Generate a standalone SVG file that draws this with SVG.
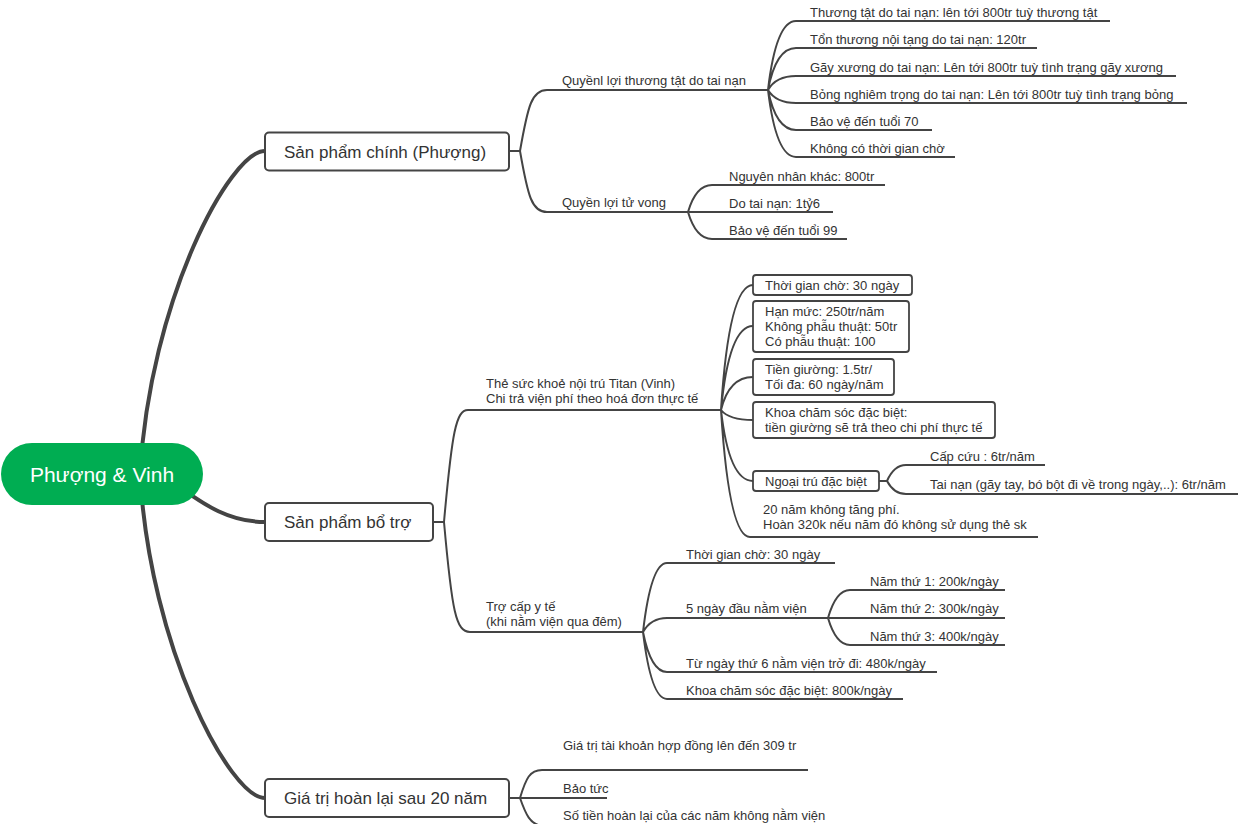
<svg xmlns="http://www.w3.org/2000/svg" width="1240" height="824" viewBox="0 0 1240 824">
<style>
.c0{fill:none;stroke:#444;stroke-width:4;stroke-linecap:round}
.c1{fill:none;stroke:#444;stroke-width:2}
.t{font-family:"Liberation Sans",Arial,sans-serif;font-size:13px;fill:#333}
.m{font-family:"Liberation Sans",Arial,sans-serif;font-size:17px;fill:#333}
.b{fill:#fff;stroke:#444;stroke-width:2}
.lb{fill:#fff;stroke:#444;stroke-width:1.8}
</style>
<rect width="1240" height="824" fill="#fff"/>
<g id="connectors">
<path class="c0" d="M140,474 C150,300 230,151 265,151"/>
<path class="c0" d="M150,470 C180,480 210,522 265,522"/>
<path class="c0" d="M140,474 C150,648 230,798 265,798"/>
<path class="c1" d="M509,151 H520 M520,151 C528,105 532,90 547,90 H768 M520,151 C528,197 532,212 547,212 H688"/>
<path class="c1" d="M768,90 Q776,21 796,21 H1110 M768,90 Q776,48 796,48 H1037 M768,90 Q776,76 796,76 H1176 M768,90 Q776,103 796,103 H1187 M768,90 Q776,130 796,130 H932 M768,90 Q776,157 796,157 H955"/>
<path class="c1" d="M688,212 Q696,185 712,185 H885 M688,212 H833 M688,212 Q696,239 712,239 H847"/>
<path class="c1" d="M433,522 H444 M444,522 C452,432 456,410 468,410 H721 M444,522 C452,612 456,632 470,632 H643"/>
<path class="c1" d="M721,410 Q729,285 753,285 M721,410 Q729,326 753,326 M721,410 Q729,377 753,377 M721,410 Q729,420 753,420 M721,410 Q729,481 753,481 M721,410 Q729,537 750,537 H1038"/>
<path class="c1" d="M879,481 H887 M887,481 Q894,465 906,465 H1045 M887,481 Q894,494 906,494 H1238"/>
<path class="c1" d="M643,632 Q651,563 667,563 H835 M643,632 Q651,618 667,618 H828 M643,632 Q651,672 667,672 H937 M643,632 Q651,699 667,699 H903"/>
<path class="c1" d="M828,618 Q836,590 850,590 H1005 M828,618 H1005 M828,618 Q836,645 850,645 H1005"/>
<path class="c1" d="M509,798 H520 M520,798 C526,778 530,770 542,770 H808 M520,798 H607 M520,798 C526,815 530,824 542,826"/>
</g>
<g id="root">
<rect x="1" y="443" width="202" height="62" rx="31" fill="#00ad52"/>
<text x="102" y="481.5" text-anchor="middle" style="font-family:'Liberation Sans',Arial,sans-serif;font-size:21px;fill:#fff">Phượng &amp; Vinh</text>
</g>
<g id="n-sp-chinh">
<rect class="b" x="265" y="132.5" width="244" height="38" rx="4"/>
<text class="m" x="284" y="158">Sản phẩm chính (Phượng)</text>
</g>
<g id="n-quyen-loi-thuong-tat"><text class="t" x="562" y="85">Quyềnl lợi thương tật do tai nạn</text></g>
<g id="n-tt1"><text class="t" x="810" y="17">Thương tật do tai nạn: lên tới 800tr tuỳ thương tật</text></g>
<g id="n-tt2"><text class="t" x="810" y="44">Tổn thương nội tạng do tai nạn: 120tr</text></g>
<g id="n-tt3"><text class="t" x="810" y="72">Gãy xương do tai nạn: Lên tới 800tr tuỳ tình trạng gãy xương</text></g>
<g id="n-tt4"><text class="t" x="810" y="99">Bỏng nghiêm trọng do tai nạn: Lên tới 800tr tuỳ tình trạng bỏng</text></g>
<g id="n-tt5"><text class="t" x="810" y="126">Bảo vệ đến tuổi 70</text></g>
<g id="n-tt6"><text class="t" x="810" y="153">Không có thời gian chờ</text></g>
<g id="n-tu-vong"><text class="t" x="562" y="207">Quyền lợi tử vong</text></g>
<g id="n-tv1"><text class="t" x="729" y="181">Nguyên nhân khác: 800tr</text></g>
<g id="n-tv2"><text class="t" x="729" y="208">Do tai nạn: 1tỷ6</text></g>
<g id="n-tv3"><text class="t" x="729" y="235">Bảo vệ đến tuổi 99</text></g>
<g id="n-sp-bo-tro">
<rect class="b" x="265" y="503" width="168" height="38" rx="4"/>
<text class="m" x="284" y="528">Sản phẩm bổ trợ</text>
</g>
<g id="n-titan"><text class="t" x="486" y="388">Thẻ sức khoẻ nội trú Titan (Vinh)</text><text class="t" x="486" y="403">Chi trả viện phí theo hoá đơn thực tế</text></g>
<g id="n-ti1"><rect class="lb" x="753" y="275" width="159" height="20" rx="3"/><text class="t" x="765" y="289.5">Thời gian chờ: 30 ngày</text></g>
<g id="n-ti2"><rect class="lb" x="753" y="301" width="156" height="51" rx="3"/><text class="t" x="765" y="316">Hạn mức: 250tr/năm</text><text class="t" x="765" y="331">Không phẫu thuật: 50tr</text><text class="t" x="765" y="346">Có phẫu thuật: 100</text></g>
<g id="n-ti3"><rect class="lb" x="753" y="359" width="141" height="36" rx="3"/><text class="t" x="765" y="374">Tiền giường: 1.5tr/</text><text class="t" x="765" y="389">Tối đa: 60 ngày/năm</text></g>
<g id="n-ti4"><rect class="lb" x="753" y="402" width="242" height="36" rx="3"/><text class="t" x="765" y="417">Khoa chăm sóc đặc biệt:</text><text class="t" x="765" y="432">tiền giường sẽ trả theo chi phí thực tế</text></g>
<g id="n-ti5"><rect class="lb" x="753" y="471" width="126" height="20" rx="3"/><text class="t" x="765" y="485.5">Ngoại trú đặc biệt</text></g>
<g id="n-nt1"><text class="t" x="930" y="461">Cấp cứu : 6tr/năm</text></g>
<g id="n-nt2"><text class="t" x="930" y="489">Tai nạn (gãy tay, bó bột đi về trong ngày,..): 6tr/năm</text></g>
<g id="n-ti6"><text class="t" x="763" y="514">20 năm không tăng phí.</text><text class="t" x="763" y="529">Hoàn 320k nếu năm đó không sử dụng thẻ sk</text></g>
<g id="n-tro-cap"><text class="t" x="486" y="611">Trợ cấp y tế</text><text class="t" x="486" y="626">(khi nằm viện qua đêm)</text></g>
<g id="n-tc1"><text class="t" x="686" y="559">Thời gian chờ: 30 ngày</text></g>
<g id="n-tc2"><text class="t" x="686" y="613">5 ngày đầu nằm viện</text></g>
<g id="n-nam1"><text class="t" x="870" y="586">Năm thứ 1: 200k/ngày</text></g>
<g id="n-nam2"><text class="t" x="870" y="613">Năm thứ 2: 300k/ngày</text></g>
<g id="n-nam3"><text class="t" x="870" y="641">Năm thứ 3: 400k/ngày</text></g>
<g id="n-tc3"><text class="t" x="686" y="668">Từ ngày thứ 6 nằm viện trở đi: 480k/ngày</text></g>
<g id="n-tc4"><text class="t" x="686" y="695">Khoa chăm sóc đặc biệt: 800k/ngày</text></g>
<g id="n-gia-tri">
<rect class="b" x="265" y="779" width="244" height="38" rx="4"/>
<text class="m" x="284" y="804">Giá trị hoàn lại sau 20 năm</text>
</g>
<g id="n-gt1"><text class="t" x="563" y="750">Giá trị tài khoản hợp đồng lên đến 309 tr</text></g>
<g id="n-gt2"><text class="t" x="563" y="793">Bảo tức</text></g>
<g id="n-gt3"><text class="t" x="563" y="820">Số tiền hoàn lại của các năm không nằm viện</text></g>
</svg>
